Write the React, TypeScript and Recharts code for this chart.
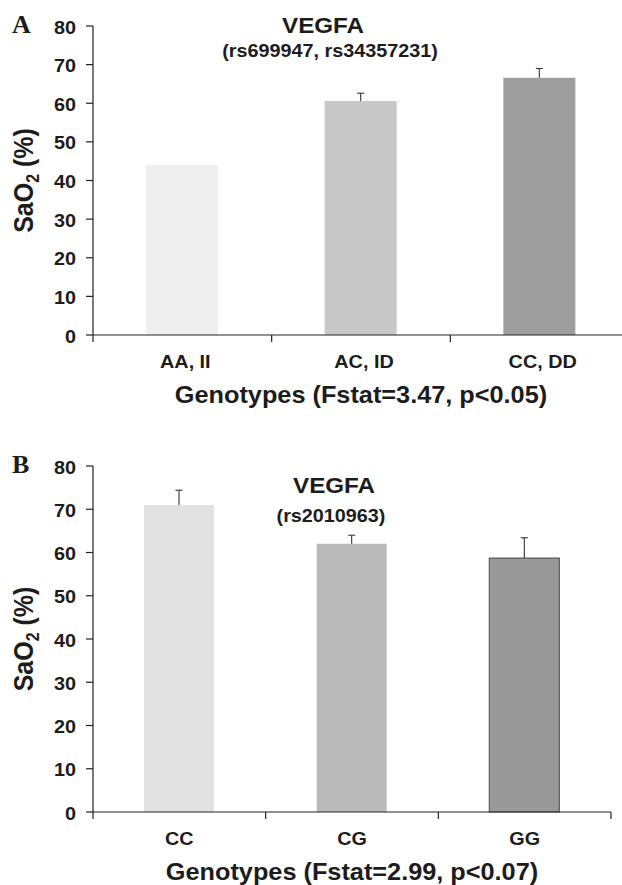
import React from 'react';
import { BarChart, Bar, XAxis, YAxis, Cell } from 'recharts';

// ---------- data ----------
const genotypesA = ['AA, II', 'AC, ID', 'CC, DD'];
const meansA = [44.0, 60.6, 66.6];
const errA = [0, 2.0, 2.4];
const colorsA = ['#efefef', '#c8c8c8', '#9e9e9e'];

const genotypesB = ['CC', 'CG', 'GG'];
const meansB = [71.0, 62.0, 58.7];
const errB = [3.4, 2.0, 4.7];
const colorsB = ['#e2e2e2', '#bababa', '#999999'];
const strokesB = ['none', 'none', '#5a5a5a'];

const yTicks = [0, 10, 20, 30, 40, 50, 60, 70, 80];

const SANS = '"Liberation Sans", Arial, Helvetica, sans-serif';
const SERIF = '"Liberation Serif", "Times New Roman", serif';
const INK = '#1c1c1c';
const AXIS = { stroke: '#222', strokeWidth: 1.2 };

type TxtProps = {
  x: number; y: number; size: number; anchor?: 'start' | 'middle' | 'end';
  family?: string; sx?: number; children?: React.ReactNode;
};
const Txt = ({ x, y, size, anchor = 'middle', family = SANS, sx = 1.1, children }: TxtProps) => (
  <text
    transform={`translate(${x},${y}) scale(${sx},1)`}
    x={0}
    y={0}
    textAnchor={anchor}
    fontSize={size}
    fontWeight="bold"
    fontFamily={family}
    fill={INK}
  >
    {children}
  </text>
);

const ErrShape = (props: any) => {
  const { x, y, width, height } = props;
  if (!height || height <= 0) return <g />;
  const cx = x + width / 2;
  return (
    <g stroke="#333" strokeWidth={1.1}>
      <line x1={cx} x2={cx} y1={y} y2={y + height} />
      <line x1={cx - 3.5} x2={cx + 3.5} y1={y} y2={y} />
    </g>
  );
};

const yTick = (props: any) => {
  const { x, y, payload } = props;
  return <Txt x={x} y={y + 7.5} size={18} anchor="end">{payload.value}</Txt>;
};

const yLabel = (props: any) => {
  const vb = props.viewBox || { x: 0, y: 0, width: 0, height: 0 };
  const cy = vb.y + vb.height / 2;
  return (
    <text
      transform={`translate(${vb.x + 33},${cy}) scale(1.1,1) rotate(-90)`}
      x={0}
      y={0}
      textAnchor="middle"
      fontSize={25}
      fontWeight="bold"
      fontFamily={SANS}
      fill={INK}
    >
      SaO
      <tspan fontSize={16} dy={5}>2</tspan>
      <tspan dy={-5}> (%)</tspan>
    </text>
  );
};

type PanelProps = {
  names: string[]; means: number[]; errs: number[]; fills: string[]; strokes?: string[];
  width: number; height: number; rightMargin: number; axisHeight: number;
  barSize: number; xTitle: string; tickDx: number;
};

const Panel = ({ names, means, errs, fills, strokes, width, height, rightMargin, axisHeight, barSize, xTitle, tickDx }: PanelProps) => {
  const data = names.map((g, i) => ({ genotype: g, mean: means[i], err: errs[i] }));
  const xTick = (props: any) => {
    const { x, y, payload, index, visibleTicksCount } = props;
    const count = visibleTicksCount || names.length;
    const half =
      payload && typeof payload.offset === 'number' && payload.offset > 0
        ? payload.offset
        : (props.width || 0) / (count * 2);
    const isLast = index === count - 1;
    return (
      <g>
        <line x1={x - half} x2={x - half} y1={y} y2={y + 7} {...AXIS} />
        {isLast && <line x1={x + half} x2={x + half} y1={y} y2={y + 7} {...AXIS} />}
        <Txt x={x + tickDx} y={y + 33} size={18}>{payload.value}</Txt>
      </g>
    );
  };
  const xLabel = (props: any) => {
    const vb = props.viewBox || { x: 0, y: 0, width: 0, height: 0 };
    return <Txt x={vb.x + vb.width / 2} y={vb.y + 68} size={23}>{xTitle}</Txt>;
  };
  return (
    <BarChart
      width={width}
      height={height}
      data={data}
      margin={{ top: 26, right: rightMargin, left: 0, bottom: 0 }}
    >
      <XAxis
        dataKey="genotype"
        type="category"
        height={axisHeight}
        interval={0}
        axisLine={AXIS}
        tickLine={false}
        tickSize={0}
        tickMargin={0}
        tick={xTick}
        label={{ content: xLabel }}
      />
      <YAxis
        type="number"
        domain={[0, 80]}
        ticks={yTicks}
        interval={0}
        width={93}
        tickSize={7}
        tickMargin={10}
        axisLine={AXIS}
        tickLine={AXIS}
        tick={yTick}
        label={{ content: yLabel }}
      />
      <Bar dataKey="mean" stackId="s" barSize={barSize} isAnimationActive={false}>
        {data.map((d, i) => (
          <Cell
            key={d.genotype}
            fill={fills[i]}
            stroke={strokes ? strokes[i] : 'none'}
            strokeWidth={strokes && strokes[i] !== 'none' ? 1.2 : 0}
          />
        ))}
      </Bar>
      <Bar dataKey="err" stackId="s" barSize={barSize} shape={ErrShape} isAnimationActive={false} />
    </BarChart>
  );
};

export default function App() {
  return (
    <div
      style={{
        position: 'absolute',
        left: 0,
        top: 0,
        width: 622,
        height: 885,
        overflow: 'hidden',
        background: '#fff',
      }}
    >
      <div style={{ position: 'absolute', left: 0, top: 0 }}>
        <Panel
          names={genotypesA}
          means={meansA}
          errs={errA}
          fills={colorsA}
          width={629}
          height={440}
          rightMargin={0}
          axisHeight={105}
          barSize={72}
          xTitle="Genotypes (Fstat=3.47, p<0.05)"
          tickDx={3}
        />
      </div>
      <div style={{ position: 'absolute', left: 0, top: 440 }}>
        <Panel
          names={genotypesB}
          means={meansB}
          errs={errB}
          fills={colorsB}
          strokes={strokesB}
          width={622}
          height={445}
          rightMargin={11}
          axisHeight={73}
          barSize={70}
          xTitle="Genotypes (Fstat=2.99, p<0.07)"
          tickDx={0}
        />
      </div>
      <svg
        width={622}
        height={885}
        style={{ position: 'absolute', left: 0, top: 0, pointerEvents: 'none' }}
      >
        <Txt x={12} y={33} size={26} anchor="start" family={SERIF} sx={1}>A</Txt>
        <Txt x={323} y={33} size={22}>VEGFA</Txt>
        <Txt x={330} y={56.5} size={18}>(rs699947, rs34357231)</Txt>
        <Txt x={12} y={473} size={26} anchor="start" family={SERIF} sx={1}>B</Txt>
        <Txt x={334} y={493} size={22}>VEGFA</Txt>
        <Txt x={331} y={522} size={18}>(rs2010963)</Txt>
      </svg>
    </div>
  );
}
